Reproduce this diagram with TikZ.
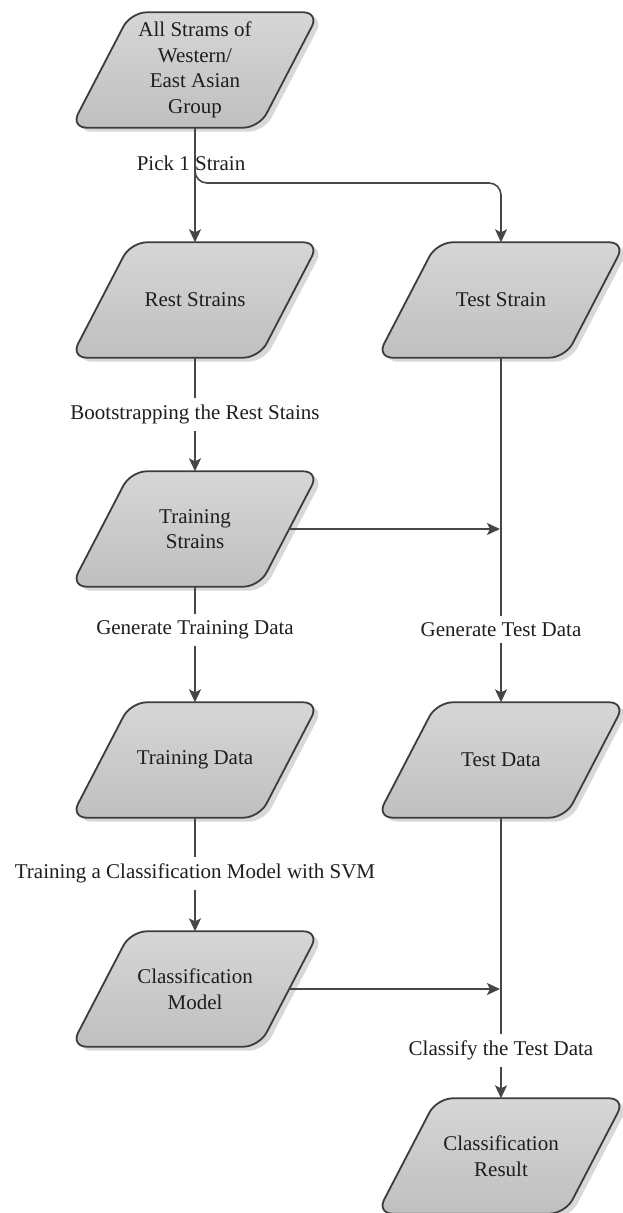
\documentclass[tikz,border=0pt]{standalone}
\usepackage{fontspec}
\setmainfont{Liberation Serif}
\usetikzlibrary{arrows.meta,calc,backgrounds}

\definecolor{edgegray}{HTML}{464646}
\definecolor{boxline}{HTML}{3C3C3C}
\definecolor{inkgray}{HTML}{1E1E1E}

\tikzset{
  stage/.style={rectangle, minimum width=188pt, minimum height=115pt, inner sep=0pt,
                align=center, text=inkgray, font=\fontsize{21}{25.5}\selectfont},
  flow/.style={draw=edgegray, line width=1.6pt, -{Stealth[length=13pt,width=12pt,inset=3pt]}},
  lbl/.style={fill=white, inner xsep=3pt, inner ysep=6.5pt, text=inkgray,
              font=\fontsize{21}{25.5}\selectfont},
  lblclear/.style={lbl, fill=none},
  slantfill/.style={draw=boxline, line width=1.8pt, rounded corners=16pt,
                    top color=black!16, bottom color=black!25},
  slantshadow/.style={fill=black!30, rounded corners=16pt, opacity=0.5},
}

% slanted data box drawn behind a named node
\newcommand\slantbox[1]{%
  \fill[slantshadow] ($(#1.north west)+(35,-4)$) -- ($(#1.north east)+(35,-4)$)
     -- ($(#1.south east)+(-25,-4)$) -- ($(#1.south west)+(-25,-4)$) -- cycle;
  \path[slantfill] ($(#1.north west)+(30,0)$) -- ($(#1.north east)+(30,0)$)
     -- ($(#1.south east)+(-30,0)$) -- ($(#1.south west)+(-30,0)$) -- cycle;
}

\begin{document}
\begin{tikzpicture}[x=1pt,y=1pt]
\useasboundingbox (0,0) rectangle (622,-1213);

% stages
\node[stage] (all)       at (195,-70)   {All Strams of\\Western/\\East Asian\\Group};
\node[stage] (rest)      at (195,-300)  {Rest Strains};
\node[stage] (teststr)   at (501,-300)  {Test Strain};
\node[stage] (train)     at (195,-529)  {Training\\Strains};
\node[stage] (traindata) at (195,-760)  {Training Data};
\node[stage] (testdata)  at (501,-760)  {Test Data};
\node[stage] (model)     at (195,-989)  {Classification\\Model};
\node[stage] (result)    at (501,-1156) {Classification\\Result};

\begin{scope}[on background layer]
  \slantbox{all}
  \slantbox{rest}
  \slantbox{teststr}
  \slantbox{train}
  \slantbox{traindata}
  \slantbox{testdata}
  \slantbox{model}
  \slantbox{result}
\end{scope}

% split point of the first step
\coordinate (fork) at (501,-183);

% connectors
\draw[flow, rounded corners=12pt] (all.south) |- (fork) -- (teststr.north);
\draw[flow] (all.south) -- node[lblclear, pos=0.31, xshift=-4pt] {Pick 1 Strain} (rest.north);
\draw[flow] (rest.south) -- node[lbl, pos=0.5] {Bootstrapping the Rest Stains} (train.north);
\draw[flow] (train.south) -- node[lbl, pos=0.375] {Generate Training Data} (traindata.north);
\draw[flow] (traindata.south) -- node[lbl, pos=0.49] {Training a Classification Model with SVM} (model.north);
\draw[flow] (teststr.south) -- node[lbl, pos=0.79] {Generate Test Data} (testdata.north);
\draw[flow] (testdata.south) -- node[lbl, pos=0.83] {Classify the Test Data} (result.north);
\draw[flow, shorten >=1pt] (train.east) -- (train.east -| teststr.south);
\draw[flow, shorten >=1pt] (model.east) -- (model.east -| testdata.south);
\end{tikzpicture}
\end{document}
